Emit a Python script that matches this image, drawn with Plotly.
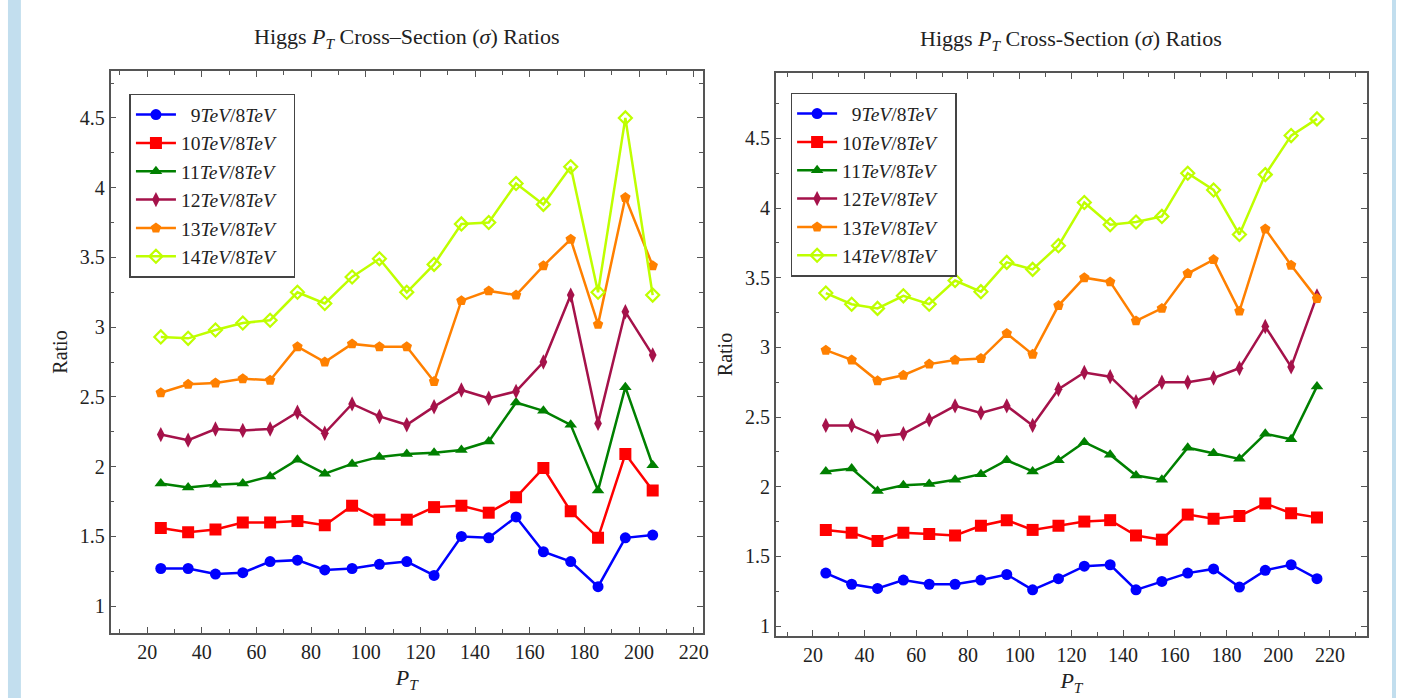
import plotly.graph_objects as go

# ---------------- data ----------------
pt_left = [25, 35, 45, 55, 65, 75, 85, 95, 105, 115, 125, 135, 145, 155, 165, 175, 185, 195, 205]
pt_right = [25, 35, 45, 55, 65, 75, 85, 95, 105, 115, 125, 135, 145, 155, 165, 175, 185, 195, 205, 215]

left_9 = [1.27, 1.27, 1.23, 1.24, 1.32, 1.33, 1.26, 1.27, 1.30, 1.32, 1.22, 1.50, 1.49, 1.64, 1.39, 1.32, 1.14, 1.49, 1.51]
left_10 = [1.56, 1.53, 1.55, 1.60, 1.60, 1.61, 1.58, 1.72, 1.62, 1.62, 1.71, 1.72, 1.67, 1.78, 1.99, 1.68, 1.49, 2.09, 1.83]
left_11 = [1.88, 1.85, 1.87, 1.88, 1.93, 2.05, 1.95, 2.02, 2.07, 2.09, 2.10, 2.12, 2.18, 2.46, 2.40, 2.30, 1.83, 2.57, 2.01]
left_12 = [2.23, 2.19, 2.27, 2.26, 2.27, 2.39, 2.24, 2.45, 2.36, 2.30, 2.43, 2.55, 2.49, 2.54, 2.75, 3.23, 2.31, 3.11, 2.80]
left_13 = [2.53, 2.59, 2.60, 2.63, 2.62, 2.86, 2.75, 2.88, 2.86, 2.86, 2.61, 3.19, 3.26, 3.23, 3.44, 3.63, 3.02, 3.93, 3.44]
left_14 = [2.93, 2.92, 2.98, 3.03, 3.05, 3.25, 3.17, 3.36, 3.49, 3.25, 3.45, 3.74, 3.75, 4.03, 3.88, 4.15, 3.25, 4.50, 3.23]

right_9 = [1.38, 1.30, 1.27, 1.33, 1.30, 1.30, 1.33, 1.37, 1.26, 1.34, 1.43, 1.44, 1.26, 1.32, 1.38, 1.41, 1.28, 1.40, 1.44, 1.34]
right_10 = [1.69, 1.67, 1.61, 1.67, 1.66, 1.65, 1.72, 1.76, 1.69, 1.72, 1.75, 1.76, 1.65, 1.62, 1.80, 1.77, 1.79, 1.88, 1.81, 1.78]
right_11 = [2.11, 2.13, 1.97, 2.01, 2.02, 2.05, 2.09, 2.19, 2.11, 2.19, 2.32, 2.23, 2.08, 2.05, 2.28, 2.24, 2.20, 2.38, 2.34, 2.72]
right_12 = [2.44, 2.44, 2.36, 2.38, 2.48, 2.58, 2.53, 2.58, 2.44, 2.70, 2.82, 2.79, 2.61, 2.75, 2.75, 2.78, 2.85, 3.15, 2.86, 3.37]
right_13 = [2.98, 2.91, 2.76, 2.80, 2.88, 2.91, 2.92, 3.10, 2.95, 3.30, 3.50, 3.47, 3.19, 3.28, 3.53, 3.63, 3.26, 3.85, 3.59, 3.35]
right_14 = [3.39, 3.31, 3.28, 3.37, 3.31, 3.48, 3.40, 3.61, 3.56, 3.73, 4.04, 3.88, 3.90, 3.94, 4.25, 4.13, 3.81, 4.24, 4.52, 4.64]

series_labels = ["\u20079<i>TeV</i>/8<i>TeV</i>\u2002\u2009", "10<i>TeV</i>/8<i>TeV</i>\u2002\u2009",
                 "11<i>TeV</i>/8<i>TeV</i>\u2002\u2009", "12<i>TeV</i>/8<i>TeV</i>\u2002\u2009",
                 "13<i>TeV</i>/8<i>TeV</i>\u2002\u2009", "14<i>TeV</i>/8<i>TeV</i>\u2002\u2009"]
x_ticks = [20, 40, 60, 80, 100, 120, 140, 160, 180, 200, 220]
y_ticks = [1, 1.5, 2, 2.5, 3, 3.5, 4, 4.5]
y_tick_labels = ["1", "1.5", "2", "2.5", "3", "3.5", "4", "4.5"]

# ---------------- styles ----------------
colors = ["#0000ff", "#ff0000", "#008000", "#a5124a", "#ff8000", "#bfff00"]
symbols = ["circle", "square", "triangle-up", "diamond-tall", "pentagon", "diamond-open"]
sizes = [11, 12, 11, 11, 11, 10]
FONT = "Liberation Serif"
TXT = "#222222"

fig = go.Figure()

left_series = [left_9, left_10, left_11, left_12, left_13, left_14]
right_series = [right_9, right_10, right_11, right_12, right_13, right_14]

for i, ys in enumerate(left_series):
    fig.add_trace(go.Scatter(
        x=pt_left, y=ys, mode="lines+markers", name=series_labels[i],
        line=dict(color=colors[i], width=2.5),
        marker=dict(symbol=symbols[i], size=sizes[i], color=colors[i],
                    line=dict(color=colors[i], width=2.2 if i == 5 else 0)),
        xaxis="x", yaxis="y", legend="legend", legendgroup="L%d" % i))

for i, ys in enumerate(right_series):
    fig.add_trace(go.Scatter(
        x=pt_right, y=ys, mode="lines+markers", name=series_labels[i],
        line=dict(color=colors[i], width=2.5),
        marker=dict(symbol=symbols[i], size=sizes[i], color=colors[i],
                    line=dict(color=colors[i], width=2.2 if i == 5 else 0)),
        xaxis="x2", yaxis="y2", legend="legend2", legendgroup="R%d" % i))

W, H = 1402, 699
axcol = "#555555"


def xax(domain, rng, anchor):
    return dict(domain=domain, range=rng, anchor=anchor,
                tickvals=x_ticks, ticktext=[str(v) for v in x_ticks],
                ticks="inside", ticklen=6, tickcolor=axcol, tickwidth=1,
                minor=dict(ticks="inside", ticklen=4, dtick=10, tick0=0, tickcolor=axcol),
                showline=True, linecolor=axcol, linewidth=1.5, mirror="ticks",
                showgrid=False, zeroline=False,
                tickfont=dict(family=FONT, size=20, color=TXT),
                title=dict(text="<i>P</i><sub><i>T</i></sub>", standoff=8,
                           font=dict(family=FONT, size=22, color=TXT)))


def yax(domain, rng, anchor):
    return dict(domain=domain, range=rng, anchor=anchor,
                tickvals=y_ticks, ticktext=y_tick_labels,
                ticks="inside", ticklen=6, tickcolor=axcol, tickwidth=1,
                minor=dict(ticks="inside", ticklen=4, dtick=0.25, tick0=0, tickcolor=axcol),
                showline=True, linecolor=axcol, linewidth=1.5, mirror="ticks",
                showgrid=False, zeroline=False,
                tickfont=dict(family=FONT, size=20, color=TXT),
                title=dict(text="Ratio", standoff=7,
                           font=dict(family=FONT, size=20, color=TXT)))


legend_common = dict(
    bgcolor="white", bordercolor="#444444", borderwidth=1.5,
    font=dict(family=FONT, size=19.5, color=TXT),
    xanchor="left", yanchor="top", tracegroupgap=1, itemwidth=40,
    traceorder="normal")

fig.update_layout(
    width=W, height=H,
    margin=dict(l=0, r=0, t=0, b=0),
    paper_bgcolor="white", plot_bgcolor="white",
    showlegend=True,
    xaxis=xax([111 / W, 706 / W], [6.6, 223.4], "y"),
    yaxis=yax([1 - 634 / H, 1 - 71 / H], [0.807, 4.837], "x"),
    xaxis2=xax([779 / W, 1373 / W], [5.6, 234.4], "y2"),
    yaxis2=yax([1 - 637 / H, 1 - 73 / H], [0.928, 4.97], "x2"),
    legend=dict(x=130 / W, y=1 - 94 / H, **legend_common),
    legend2=dict(x=794 / W, y=1 - 93 / H, **legend_common),
    annotations=[
        dict(text="Higgs <i>P</i><sub><i>T</i></sub> Cross–Section (<i>σ</i>) Ratios",
             x=408.5 / W, y=1 - 38 / H, xref="paper", yref="paper", showarrow=False,
             xanchor="center", yanchor="middle",
             font=dict(family=FONT, size=22, color=TXT)),
        dict(text="Higgs <i>P</i><sub><i>T</i></sub> Cross-Section (<i>σ</i>) Ratios",
             x=1076 / W, y=1 - 40 / H, xref="paper", yref="paper", showarrow=False,
             xanchor="center", yanchor="middle",
             font=dict(family=FONT, size=22, color=TXT)),
    ],
    shapes=[
        dict(type="rect", xref="paper", yref="paper", x0=8 / W, x1=21 / W, y0=0, y1=1,
             fillcolor="#c2deee", line=dict(width=0), layer="below"),
        dict(type="rect", xref="paper", yref="paper", x0=1398 / W, x1=1, y0=0, y1=1,
             fillcolor="#c2deee", line=dict(width=0), layer="below"),
    ],
)

fig.write_html("out.html", config={"displayModeBar": False},
               post_script="document.body.style.margin='0px';document.body.style.overflow='hidden';")
